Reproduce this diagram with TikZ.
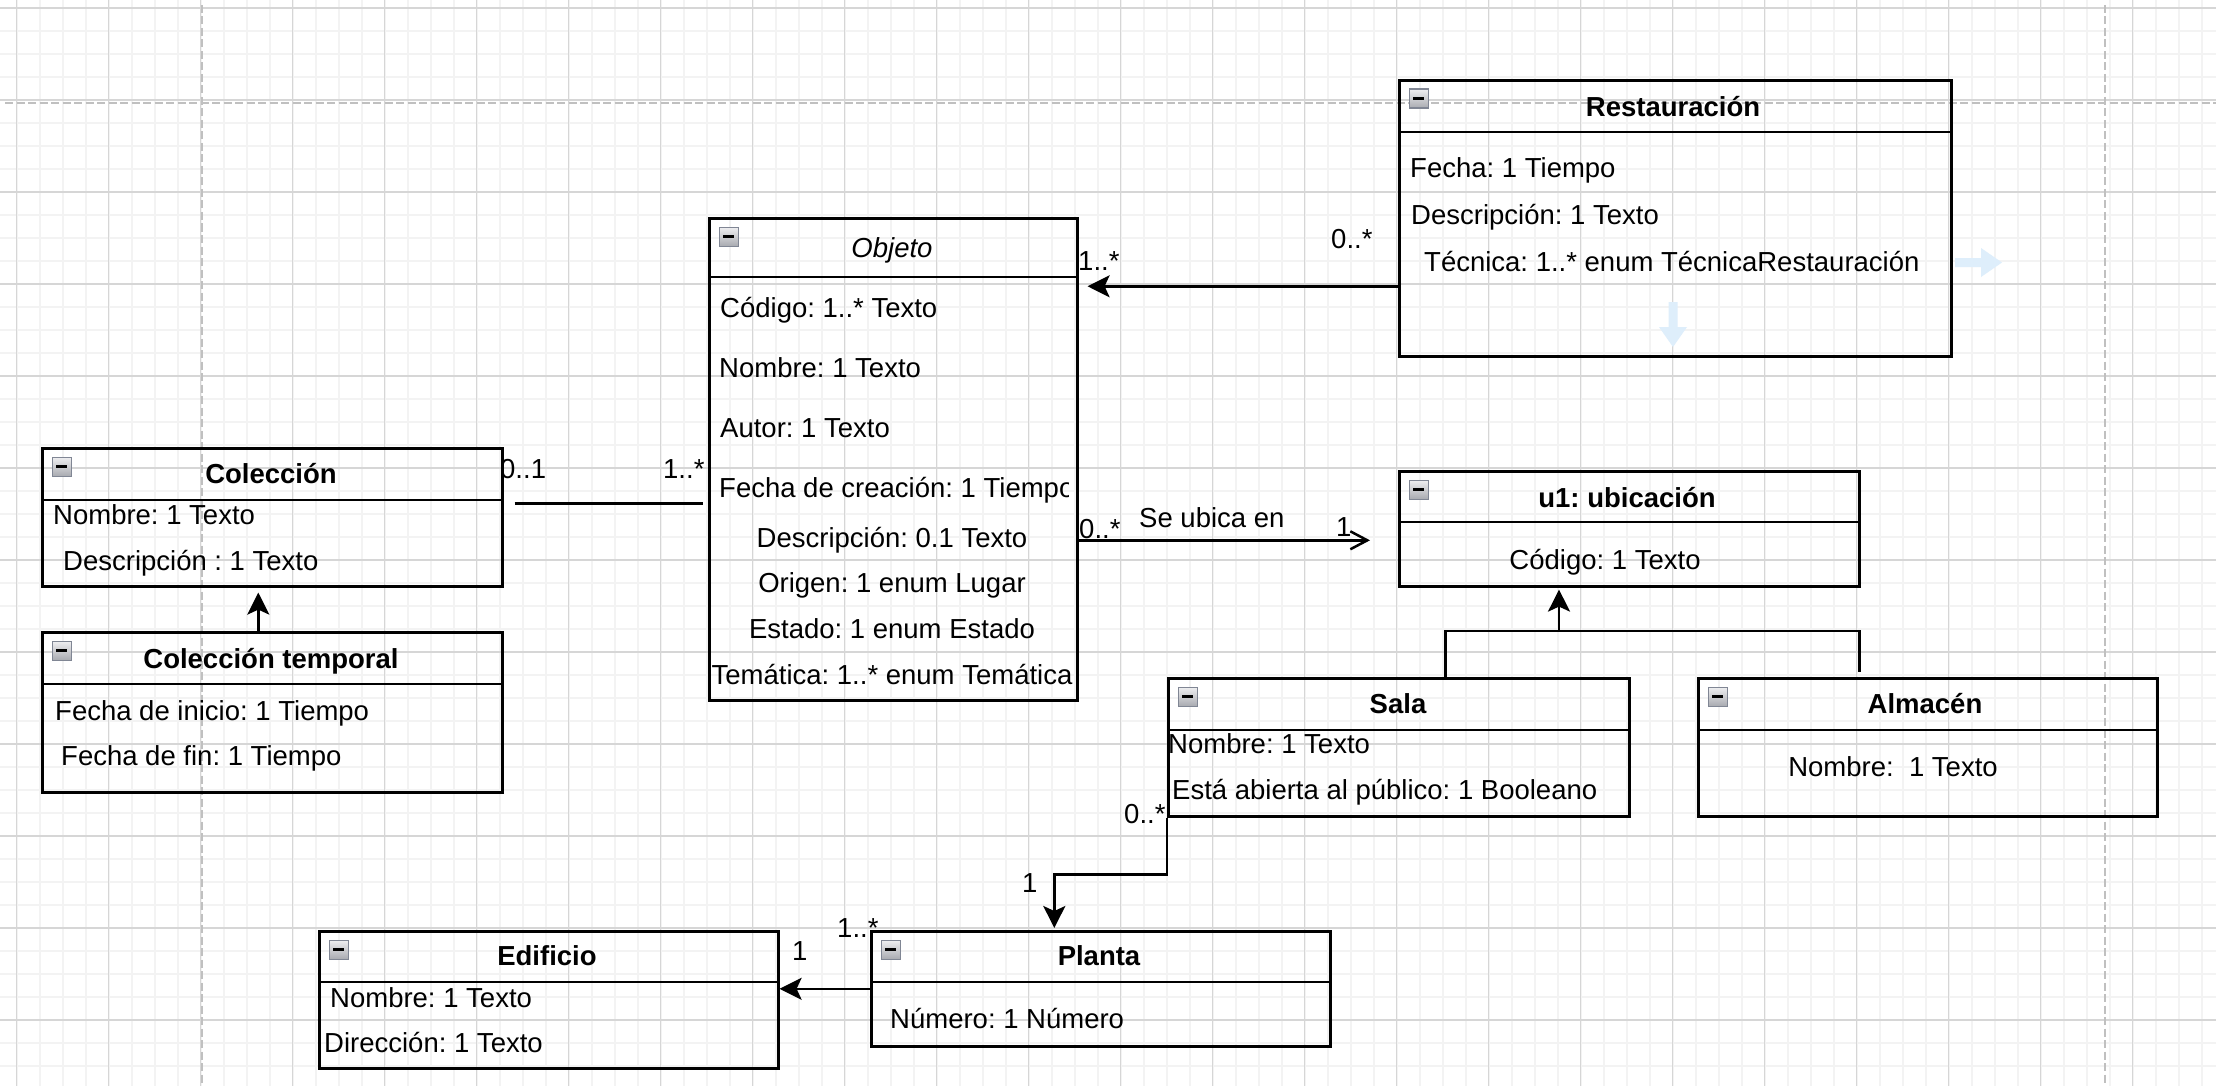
\documentclass[tikz,border=0pt]{standalone}
\usepackage{fontspec}
\setmainfont{Liberation Sans}
\usetikzlibrary{arrows.meta}
\frenchspacing

\definecolor{gridminor}{RGB}{243,243,243}
\definecolor{gridmajor}{RGB}{214,214,214}
\definecolor{pagebreak}{RGB}{192,192,192}
\definecolor{hoverblue}{RGB}{222,238,251}
\definecolor{iconedge}{RGB}{128,134,148}
\definecolor{icontop}{RGB}{238,238,240}
\definecolor{iconbot}{RGB}{168,170,176}

\begin{document}
\begin{tikzpicture}[x=1pt, y=-1pt,
  every node/.style={font=\fontsize{27.5}{33}\selectfont, inner sep=0pt},
  umlbox/.style={draw=black, line width=2.6pt, rectangle, anchor=north west, inner sep=0pt},
  divider/.style={line width=2.6pt, draw=black},
  attr/.style={anchor=base west},
  cattr/.style={anchor=base},
  titl/.style={anchor=base, font=\fontsize{27.5}{33}\selectfont\bfseries},
  mult/.style={anchor=base west},
  conn/.style={line width=2.5pt, draw=black},
  solidtip/.style={conn, -{Stealth[length=22pt, width=22pt, inset=5pt]}},
  opentip/.style={conn, -{Straight Barb[length=17pt, width=18pt, line width=2.5pt]}},
  collapse/.style={anchor=north west, minimum size=19pt, draw=iconedge, line width=1.6pt,
    top color=icontop, bottom color=iconbot,
    path picture={\fill[black] ([shift={(-5.5pt,-1.4pt)}]path picture bounding box.center)
      rectangle ([shift={(5.5pt,1.4pt)}]path picture bounding box.center);}},
  pagebrk/.style={draw=pagebreak, line width=2pt, dash pattern=on 8pt off 3.5pt},
]
\useasboundingbox (0,0) rectangle (2216,1086);
\fill[white] (0,0) rectangle (2216,1086);

% background grid
\foreach \i in {0,...,95} \draw[gridminor, line width=2pt] ({16.5+23*\i},0) -- ({16.5+23*\i},1086);
\foreach \j in {0,...,46} \draw[gridminor, line width=2pt] (0,{8+23*\j}) -- (2216,{8+23*\j});
\foreach \i in {0,...,23} \draw[gridmajor, line width=1.1pt] ({16.5+92*\i},0) -- ({16.5+92*\i},1086);
\foreach \j in {0,...,11} \draw[gridmajor, line width=1.1pt] (0,{8+92*\j}) -- (2216,{8+92*\j});

% page breaks
\draw[pagebrk] (5,103) -- (2216,103);
\draw[pagebrk] (202,5) -- (202,1086);
\draw[pagebrk] (2105,5) -- (2105,1086);

% faint hover arrows beside Restauracion
\fill[hoverblue] (1955,258) -- (1981,258) -- (1981,248) -- (2002,262.5) -- (1981,277) -- (1981,267) -- (1955,267) -- cycle;
\fill[hoverblue] (1668.5,302) -- (1677.5,302) -- (1677.5,327) -- (1687,327) -- (1673,347) -- (1659,327) -- (1668.5,327) -- cycle;

% ---------- classes ----------
% Restauracion
\node[umlbox, minimum width=552pt, minimum height=276pt] (resta) at (1398,79) {};
\draw[divider] ([yshift=-53pt]resta.north west) -- ([yshift=-53pt]resta.north east);
\node[collapse] (restaI) at ([xshift=10.5pt,yshift=-9.5pt]resta.north west) {};
\node[titl] (restaT) at (1673,117) {Restauración};
\node[attr] (restaA1) at (1410,178) {Fecha: 1 Tiempo};
\node[attr] (restaA2) at (1411,225) {Descripción: 1 Texto};
\node[attr] (restaA3) at (1424,271) {Técnica: 1..* enum TécnicaRestauración};

% Objeto
\node[umlbox, minimum width=368pt, minimum height=482pt] (objeto) at (708,217) {};
\draw[divider] ([yshift=-60pt]objeto.north west) -- ([yshift=-60pt]objeto.north east);
\node[collapse] (objetoI) at ([xshift=10.5pt,yshift=-9.5pt]objeto.north west) {};
\node[anchor=base, font=\fontsize{27.5}{33}\selectfont\itshape] (objetoT) at (892,257) {Objeto};
\node[attr] (objetoA1) at (720,317) {Código: 1..* Texto};
\node[attr] (objetoA2) at (719,377) {Nombre: 1 Texto};
\node[attr] (objetoA3) at (720,437) {Autor: 1 Texto};
\begin{scope}
  \clip (708,217) rectangle (1068,699);
  \node[attr] (objetoA4) at (719,497) {Fecha de creación: 1 Tiempo};
\end{scope}
\node[cattr] (objetoA5) at (892,547) {Descripción: 0.1 Texto};
\node[cattr] (objetoA6) at (892,592) {Origen: 1 enum Lugar};
\node[cattr] (objetoA7) at (892,638) {Estado: 1 enum Estado};
\node[cattr] (objetoA8) at (892,684) {Temática: 1..* enum Temática};

% Coleccion
\node[umlbox, minimum width=460pt, minimum height=138pt] (colec) at (41,447) {};
\draw[divider] ([yshift=-53pt]colec.north west) -- ([yshift=-53pt]colec.north east);
\node[collapse] (colecI) at ([xshift=10.5pt,yshift=-9.5pt]colec.north west) {};
\node[titl] (colecT) at (271,483) {Colección};
\node[attr] (colecA1) at (53,524) {Nombre: 1 Texto};
\node[attr] (colecA2) at (63,570) {Descripción : 1 Texto};

% Coleccion temporal
\node[umlbox, minimum width=460pt, minimum height=160pt] (ctemp) at (41,631) {};
\draw[divider] ([yshift=-53pt]ctemp.north west) -- ([yshift=-53pt]ctemp.north east);
\node[collapse] (ctempI) at ([xshift=10.5pt,yshift=-9.5pt]ctemp.north west) {};
\node[titl] (ctempT) at (271,668) {Colección temporal};
\node[attr] (ctempA1) at (55,720) {Fecha de inicio: 1 Tiempo};
\node[attr] (ctempA2) at (61,765) {Fecha de fin: 1 Tiempo};

% u1: ubicacion
\node[umlbox, minimum width=460pt, minimum height=115pt] (ubic) at (1398,470) {};
\draw[divider] ([yshift=-52pt]ubic.north west) -- ([yshift=-52pt]ubic.north east);
\node[collapse] (ubicI) at ([xshift=10.5pt,yshift=-9.5pt]ubic.north west) {};
\node[titl] (ubicT) at (1627,507) {u1: ubicación};
\node[cattr] (ubicA1) at (1605,569) {Código: 1 Texto};

% Sala
\node[umlbox, minimum width=461pt, minimum height=138pt] (sala) at (1167,677) {};
\draw[divider] ([yshift=-53pt]sala.north west) -- ([yshift=-53pt]sala.north east);
\node[collapse] (salaI) at ([xshift=10.5pt,yshift=-9.5pt]sala.north west) {};
\node[titl] (salaT) at (1398,713) {Sala};
\node[attr] (salaA1) at (1168,753) {Nombre: 1 Texto};
\node[attr] (salaA2) at (1172,799) {Está abierta al público: 1 Booleano};

% Almacen
\node[umlbox, minimum width=459pt, minimum height=138pt] (almacen) at (1697,677) {};
\draw[divider] ([yshift=-53pt]almacen.north west) -- ([yshift=-53pt]almacen.north east);
\node[collapse] (almacenI) at ([xshift=10.5pt,yshift=-9.5pt]almacen.north west) {};
\node[titl] (almacenT) at (1925,713) {Almacén};
\node[cattr] (almacenA1) at (1893,776) {Nombre:\ \ 1 Texto};

% Edificio
\node[umlbox, minimum width=459pt, minimum height=137pt] (edif) at (318,930) {};
\draw[divider] ([yshift=-52pt]edif.north west) -- ([yshift=-52pt]edif.north east);
\node[collapse] (edifI) at ([xshift=10.5pt,yshift=-9.5pt]edif.north west) {};
\node[titl] (edifT) at (547,965) {Edificio};
\node[attr] (edifA1) at (330,1007) {Nombre: 1 Texto};
\node[attr] (edifA2) at (324,1052) {Dirección: 1 Texto};

% Planta
\node[umlbox, minimum width=459pt, minimum height=115pt] (planta) at (870,930) {};
\draw[divider] ([yshift=-52pt]planta.north west) -- ([yshift=-52pt]planta.north east);
\node[collapse] (plantaI) at ([xshift=10.5pt,yshift=-9.5pt]planta.north west) {};
\node[titl] (plantaT) at (1099,965) {Planta};
\node[attr] (plantaA1) at (890,1028) {Número: 1 Número};

% ---------- connectors ----------
% Coleccion temporal specialises Coleccion
\draw[solidtip, shorten >=5pt] ([xshift=-14pt]ctemp.north) -- ([xshift=-14pt]colec.south);

% Sala and Almacen specialise ubicacion
\coordinate (genjoin) at (1559,631);
\coordinate (almtop) at ([xshift=-68.5pt]almacen.north);
\draw[conn] ([xshift=46.5pt]sala.north) |- (almtop |- genjoin) -- ([yshift=5pt]almtop);
\draw[solidtip, shorten >=2pt] (genjoin) -- (ubic.south -| genjoin);

% Restauracion -- Objeto
\coordinate (restaend) at ([yshift=-68pt]resta.west);
\draw[solidtip, shorten >=9pt] (restaend) -- (objeto.east |- restaend);
\node[mult] (mRestaObj) at (1078,270) {1..*};
\node[mult] (mRestaRes) at (1331,248) {0..*};

% Objeto se ubica en ubicacion
\coordinate (ubicastart) at ([yshift=-81pt]objeto.east);
\draw[opentip, shorten >=28pt] (ubicastart) -- (ubic.west |- ubicastart);
\node[mult] (mUbicObj) at (1079,538) {0..*};
\node[mult] (lUbica) at (1139,527) {Se ubica en};
\node[mult] (mUbicU) at (1336,536) {1};

% Coleccion -- Objeto
\coordinate (colecend) at ([yshift=14pt]colec.east);
\draw[conn, shorten <=11pt, shorten >=5pt] (colecend) -- (objeto.west |- colecend);
\node[mult] (mColC) at (500,478) {0..1};
\node[mult] (mColO) at (663,478) {1..*};

% Sala -- Planta
\draw[solidtip, shorten >=2pt] (sala.south west) -- ++(0,57) -| ([xshift=-46.5pt]planta.north);
\node[mult] (mSalaS) at (1124,823) {0..*};
\node[mult] (mSalaP) at (1022,892) {1};

% Planta -- Edificio
\draw[solidtip] (planta.west) -- (edif.east |- planta.west);
\node[mult] (mPlantaE) at (792,960) {1};
\node[mult] (mPlantaP) at (837,937) {1..*};

\end{tikzpicture}
\end{document}
